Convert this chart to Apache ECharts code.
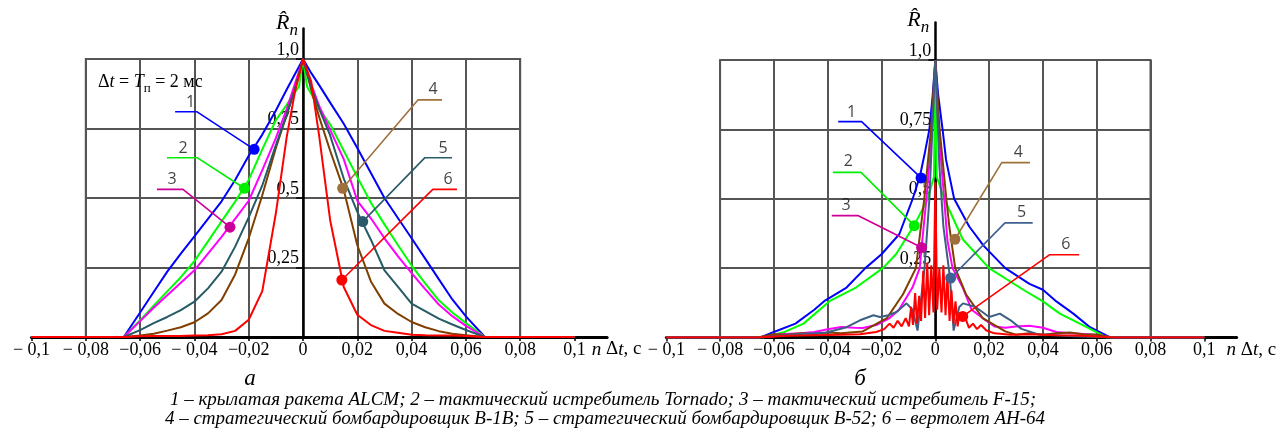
<!DOCTYPE html>
<html><head><meta charset="utf-8">
<script src="https://cdn.jsdelivr.net/npm/echarts@6.0.0/dist/echarts.min.js"></script>
<style>html,body{margin:0;padding:0;background:#fff}#c{width:1287px;height:436px}</style>
</head><body><div id="c"></div><script>
// ---------- DATA ----------
const xTickValues = [-0.1,-0.08,-0.06,-0.04,-0.02,0,0.02,0.04,0.06,0.08,0.1];
const xTickLabels = ['− 0,1','− 0,08','−0,06','− 0,04','−0,02','0','0,02','0,04','0,06','0,08','0,1'];
const yTickValues = [0.25,0.5,0.75,1];
const yTickLabels = ['0,25','0,5','0,75','1,0'];
const curveNames = ['1','2','3','4','5','6'];

// panel a (shared abscissa)
const xA = [-0.1,-0.066,-0.06,-0.055,-0.05,-0.045,-0.04,-0.035,-0.03,-0.025,-0.02,-0.015,-0.01,-0.006,-0.003,-0.0015,0,0.0015,0.003,0.006,0.01,0.015,0.02,0.025,0.03,0.035,0.04,0.045,0.05,0.055,0.06,0.067,0.1];
const a1 = [0,0,0.088,0.162,0.235,0.30,0.362,0.425,0.488,0.565,0.652,0.728,0.815,0.89,0.945,0.972,1,0.975,0.95,0.905,0.843,0.767,0.68,0.59,0.50,0.427,0.355,0.282,0.208,0.135,0.074,0,0];
const a2 = [0,0,0.06,0.113,0.164,0.215,0.273,0.344,0.416,0.487,0.565,0.675,0.78,0.835,0.88,0.90,1,0.90,0.875,0.82,0.765,0.67,0.575,0.483,0.405,0.33,0.257,0.193,0.132,0.088,0.05,0,0];
const a3 = [0,0,0.057,0.105,0.15,0.195,0.24,0.30,0.36,0.425,0.49,0.60,0.715,0.82,0.91,0.955,1,0.955,0.91,0.83,0.745,0.64,0.49,0.427,0.355,0.29,0.23,0.172,0.117,0.075,0.04,0,0];
const a4 = [0,0,0.005,0.012,0.023,0.035,0.053,0.085,0.133,0.225,0.355,0.51,0.68,0.80,0.89,0.945,1,0.945,0.89,0.79,0.67,0.53,0.33,0.2,0.12,0.083,0.054,0.035,0.021,0.012,0.006,0,0];
const a5 = [0,0,0.025,0.05,0.072,0.097,0.127,0.175,0.235,0.325,0.43,0.545,0.69,0.80,0.89,0.945,1,0.95,0.90,0.82,0.725,0.57,0.45,0.35,0.24,0.18,0.12,0.093,0.066,0.045,0.025,0,0];
const a6 = [0,0,0.003,0.004,0.004,0.004,0.005,0.006,0.01,0.022,0.062,0.165,0.445,0.72,0.88,0.94,1,0.96,0.92,0.72,0.42,0.18,0.08,0.043,0.022,0.015,0.008,0.006,0.005,0.005,0.004,0,0];

// panel б (each curve has its own abscissa)
const b1x = [-0.1,-0.065,-0.06,-0.052,-0.045,-0.041,-0.033,-0.026,-0.02,-0.0134,-0.0084,-0.0057,-0.004,-0.0022,-0.001,0,0.001,0.0027,0.004,0.007,0.0126,0.018,0.026,0.035,0.04,0.045,0.0513,0.0575,0.065,0.1];
const b1y = [0,0,0.02,0.05,0.1,0.133,0.18,0.25,0.3,0.372,0.5,0.582,0.66,0.75,0.87,1,0.88,0.75,0.64,0.5,0.4,0.33,0.25,0.193,0.172,0.13,0.086,0.037,0,0];
const b2x = [-0.1,-0.064,-0.056,-0.049,-0.039,-0.0295,-0.0195,-0.0146,-0.0078,-0.0028,-0.0005,0,0.0005,0.0033,0.0102,0.02,0.0327,0.04,0.0463,0.0563,0.0637,0.1];
const b2y = [0,0,0.02,0.05,0.133,0.18,0.25,0.30,0.405,0.5,0.58,1,0.58,0.5,0.354,0.25,0.172,0.13,0.086,0.037,0,0];
const b3x = [-0.1,-0.066,-0.058,-0.05,-0.045,-0.04,-0.035,-0.03,-0.027,-0.022,-0.017,-0.0135,-0.0085,-0.0058,-0.0051,-0.0033,-0.0012,0,0.0012,0.0033,0.0045,0.0064,0.0102,0.0135,0.0176,0.022,0.026,0.03,0.035,0.04,0.045,0.05,0.06,0.066,0.1];
const b3y = [0,0,0.012,0.015,0.02,0.03,0.038,0.035,0.034,0.045,0.07,0.1,0.18,0.25,0.324,0.5,0.75,1,0.75,0.5,0.35,0.25,0.18,0.1,0.07,0.04,0.035,0.04,0.042,0.035,0.02,0.015,0.01,0,0];
const b4x = [-0.1,-0.066,-0.06,-0.055,-0.05,-0.045,-0.04,-0.035,-0.027,-0.018,-0.012,-0.0072,-0.0041,-0.0016,0,0.0016,0.0041,0.0052,0.0074,0.0114,0.0176,0.026,0.03,0.035,0.04,0.045,0.05,0.055,0.06,0.066,0.1];
const b4y = [0,0,0.012,0.01,0.015,0.012,0.018,0.015,0.022,0.07,0.156,0.25,0.5,0.75,1,0.75,0.5,0.4,0.25,0.156,0.07,0.022,0.01,0.015,0.01,0.015,0.018,0.012,0.01,0,0];
const b5x = [-0.1,-0.065,-0.054,-0.0405,-0.033,-0.028,-0.023,-0.0206,-0.0175,-0.0144,-0.0107,-0.0085,-0.0066,-0.004,-0.0022,0,0.0015,0.003,0.0054,0.0068,0.0089,0.0103,0.015,0.02,0.024,0.028,0.032,0.038,0.05,0.065,0.1];
const b5y = [0,0,0.01,0.018,0.037,0.062,0.08,0.074,0.08,0.092,0.123,0.1,0.025,0.25,0.5,1,0.62,0.4,0.22,0.025,0.11,0.123,0.11,0.074,0.086,0.062,0.031,0.012,0.005,0,0];
const b6x = [-0.1,-0.066,-0.055,-0.045,-0.035,-0.028,-0.022,-0.019,-0.017,-0.0155,-0.014,-0.0125,-0.011,-0.0098,-0.009,-0.0083,-0.0075,-0.0068,-0.006,-0.0053,-0.0045,-0.0038,-0.003,-0.0023,-0.0015,-0.0007,0,0.0007,0.0015,0.0023,0.003,0.0038,0.0045,0.0053,0.006,0.0068,0.0075,0.0083,0.009,0.0098,0.011,0.0125,0.014,0.0155,0.017,0.019,0.022,0.028,0.035,0.045,0.055,0.066,0.1];
const b6y = [0,0,0.006,0.008,0.01,0.012,0.02,0.03,0.05,0.035,0.06,0.04,0.07,0.04,0.11,0.045,0.16,0.05,0.15,0.06,0.24,0.07,0.27,0.08,0.26,0.09,0.56,0.1,0.25,0.09,0.26,0.08,0.22,0.06,0.17,0.05,0.13,0.04,0.09,0.06,0.075,0.035,0.05,0.03,0.045,0.025,0.015,0.01,0.012,0.008,0.006,0,0];

// leader annotations (data coordinates): outer end, inner end, marked point; label anchor
const leadersA = [
  {pts:[[-0.0471,0.81],[-0.039,0.81],[-0.018,0.675]], lab:[-0.0414,0.845]},
  {pts:[[-0.0501,0.645],[-0.039,0.645],[-0.0216,0.535]], lab:[-0.0442,0.68]},
  {pts:[[-0.0538,0.531],[-0.0442,0.531],[-0.0269,0.395]], lab:[-0.0482,0.565]},
  {pts:[[0.0512,0.853],[0.0424,0.853],[0.0146,0.535]], lab:[0.0479,0.889]},
  {pts:[[0.0549,0.645],[0.0449,0.645],[0.022,0.415]], lab:[0.0516,0.68]},
  {pts:[[0.0567,0.531],[0.0478,0.531],[0.0143,0.205]], lab:[0.0534,0.565]}
];
const leadersB = [
  {pts:[[-0.0361,0.778],[-0.0274,0.778],[-0.0053,0.575]], lab:[-0.0311,0.812]},
  {pts:[[-0.0381,0.595],[-0.0276,0.595],[-0.0078,0.403]], lab:[-0.0323,0.635]},
  {pts:[[-0.0385,0.439],[-0.0286,0.439],[-0.0051,0.324]], lab:[-0.0332,0.475]},
  {pts:[[0.0352,0.63],[0.0247,0.63],[0.0073,0.354]], lab:[0.0309,0.667]},
  {pts:[[0.0362,0.413],[0.0259,0.413],[0.0057,0.214]], lab:[0.0321,0.45]},
  {pts:[[0.0535,0.298],[0.0424,0.298],[0.0102,0.076]], lab:[0.0485,0.335]}
];

const caption1 = '1 – крылатая ракета ALCM; 2 – тактический истребитель Tornado; 3 – тактический истребитель F-15;';
const caption2 = '4 – стратегический бомбардировщик B-1B; 5 – стратегический бомбардировщик B-52; 6 – вертолет AH-64';

// ---------- STYLE ----------
const SERIF = "'Liberation Serif','Times New Roman',serif";
const SANS = "'Open Sans','Noto Sans','DejaVu Sans',sans-serif";
const colorsA = ['#0000ff','#00ff00','#ff00ff','#7f3f00','#265b66','#ff0000'];
const colorsB = ['#0000ff','#00ff00','#ff00ff','#7f3f00','#3d5f84','#ff0000'];
const leadColA = ['#0000ff','#00ee00','#cc0099','#a0703c','#2a5a6a','#ff0000'];
const leadColB = ['#0000ff','#00ee00','#cc0099','#a0703c','#3f6090','#ff0000'];

const zip = (xs, ys) => xs.map((x, i) => [x, ys[i]]);
const fmtX = v => { const i = xTickValues.findIndex(t => Math.abs(t - v) < 1e-9); return i < 0 ? '' : xTickLabels[i]; };
const fmtY = v => { const i = yTickValues.findIndex(t => Math.abs(t - v) < 1e-9); return i < 0 ? '' : yTickLabels[i]; };

const XMIN = -0.1, XMAX = 0.112;
const panels = [
  {paper:{left:85.8, top:59, width:434.4, height:278}, axes:{left:31.5, top:28.4, width:575.6, height:308.6}, ymax:1.11, nameGap:-19, rnGap:-11, rnPad:5,
   curves:[zip(xA,a1),zip(xA,a2),zip(xA,a3),zip(xA,a4),zip(xA,a5),zip(xA,a6)], colors:colorsA, leaders:leadersA, leadCol:leadColA},
  {paper:{left:720.1, top:60, width:430.4, height:277.5}, axes:{left:666.3, top:22.5, width:570.3, height:315}, ymax:1.135, nameGap:-10, rnGap:-14, rnPad:6,
   curves:[zip(b1x,b1y),zip(b2x,b2y),zip(b3x,b3y),zip(b4x,b4y),zip(b5x,b5y),zip(b6x,b6y)], colors:colorsB, leaders:leadersB, leadCol:leadColB}
];

const grid = [], xAxis = [], yAxis = [], series = [];
panels.forEach((p, k) => {
  const gp = grid.length;
  grid.push(Object.assign({show:true, borderColor:'#555', borderWidth:2, backgroundColor:'transparent'}, p.paper));
  const ga = grid.length;
  grid.push(Object.assign({show:false}, p.axes));
  // distance in px from the grid's left edge to x = 0 (so the ordinate axis sits at zero)
  const zeroShift = p.axes.width * (0 - XMIN) / (XMAX - XMIN);
  xAxis.push({gridIndex:gp, type:'value', min:-0.08, max:0.08, interval:0.02, z:1,
    axisLine:{show:false}, axisTick:{show:false}, axisLabel:{show:false},
    splitLine:{show:true, lineStyle:{color:'#555', width:2}}});
  yAxis.push({gridIndex:gp, type:'value', min:0, max:1, interval:0.25, z:1,
    axisLine:{show:false}, axisTick:{show:false}, axisLabel:{show:false},
    splitLine:{show:true, lineStyle:{color:'#555', width:2}}});
  xAxis.push({gridIndex:ga, type:'value', min:XMIN, max:XMAX, z:3,
    axisLine:{show:true, onZero:true, lineStyle:{color:'#000', width:3}},
    axisTick:{show:true, customValues:xTickValues, length:4, lineStyle:{color:'#000', width:1.5}},
    axisLabel:{show:true, customValues:xTickValues, formatter:fmtX, fontFamily:SERIF, fontSize:18, color:'#000', margin:4},
    splitLine:{show:false},
    name:'{i|n}{r| Δ}{i|t}{r|, c}', nameLocation:'end', nameGap:p.nameGap,
    nameTextStyle:{align:'left', verticalAlign:'top', padding:[3,0,0,0],
      rich:{i:{fontFamily:SERIF, fontStyle:'italic', fontSize:19, color:'#000'}, r:{fontFamily:SERIF, fontSize:19, color:'#000'}}}});
  yAxis.push({gridIndex:ga, type:'value', min:0, max:p.ymax, z:3, position:'left', offset:-zeroShift,
    axisLine:{show:true, onZero:false, lineStyle:{color:'#000', width:2.5}},
    axisTick:{show:true, customValues:yTickValues, length:7, lineStyle:{color:'#000', width:1.5}},
    axisLabel:{show:true, customValues:yTickValues, formatter:fmtY, fontFamily:SERIF, fontSize:18, color:'#000', margin:4, verticalAlign:'bottom'},
    splitLine:{show:false},
    name:'{R|R\u0302}{n|n}', nameLocation:'end', nameGap:p.rnGap,
    nameTextStyle:{align:'right', verticalAlign:'bottom', padding:[0,p.rnPad,0,0],
      rich:{R:{fontFamily:SERIF, fontStyle:'italic', fontSize:22, color:'#000', verticalAlign:'bottom', padding:[0,0,5,0]},
            n:{fontFamily:SERIF, fontStyle:'italic', fontSize:17, color:'#000', verticalAlign:'bottom'}}}});
  const xi = xAxis.length - 1, yi = yAxis.length - 1;
  p.curves.forEach((d, i) => {
    series.push({type:'line', xAxisIndex:xi, yAxisIndex:yi, data:d, symbol:'none', z:5, silent:true,
      lineStyle:{color:p.colors[i], width:2}});
  });
  p.leaders.forEach((L, i) => {
    series.push({type:'line', xAxisIndex:xi, yAxisIndex:yi, data:L.pts, z:6, silent:true,
      symbol:'circle', showAllSymbol:true, symbolSize:(v, prm) => prm.dataIndex === 2 ? 11 : 0,
      itemStyle:{color:p.leadCol[i]}, lineStyle:{color:p.leadCol[i], width:1.6}});
    series.push({type:'scatter', xAxisIndex:xi, yAxisIndex:yi, z:7, silent:true,
      data:[{name:curveNames[i], value:L.lab}], symbolSize:2, itemStyle:{color:'rgba(0,0,0,0)'},
      label:{show:true, position:'inside', formatter:'{b}', fontFamily:SANS, fontSize:16, color:'#111'}});
  });
});

const capStyle = {fontFamily:SERIF, fontStyle:'italic', fontWeight:'normal', fontSize:19, color:'#000'};
const title = [
  {left:93, top:68, text:'{r|Δ}{i|t}{r| = }{i|T}{s|п}{r| = 2 мс}',
   textStyle:{fontWeight:'normal', rich:{
     r:{fontFamily:SERIF, fontWeight:'normal', fontSize:18, color:'#000', verticalAlign:'bottom', padding:[0,0,4,0]},
     i:{fontFamily:SERIF, fontWeight:'normal', fontStyle:'italic', fontSize:18, color:'#000', verticalAlign:'bottom', padding:[0,0,4,0]},
     s:{fontFamily:SERIF, fontWeight:'normal', fontSize:13, color:'#000', verticalAlign:'bottom'}}}},
  {left:245, top:362, textAlign:'center', text:'а', textStyle:Object.assign({}, capStyle, {fontSize:23})},
  {left:855, top:362, textAlign:'center', text:'б', textStyle:Object.assign({}, capStyle, {fontSize:23})},
  {left:598, top:385, textAlign:'center', text:caption1, textStyle:capStyle},
  {left:600, top:404, textAlign:'center', text:caption2, textStyle:capStyle}
];

const chart = echarts.init(document.getElementById('c'), null, {renderer:'canvas'});
chart.setOption({animation:false, backgroundColor:'#fff', title, grid, xAxis, yAxis, series});
</script></body></html>
